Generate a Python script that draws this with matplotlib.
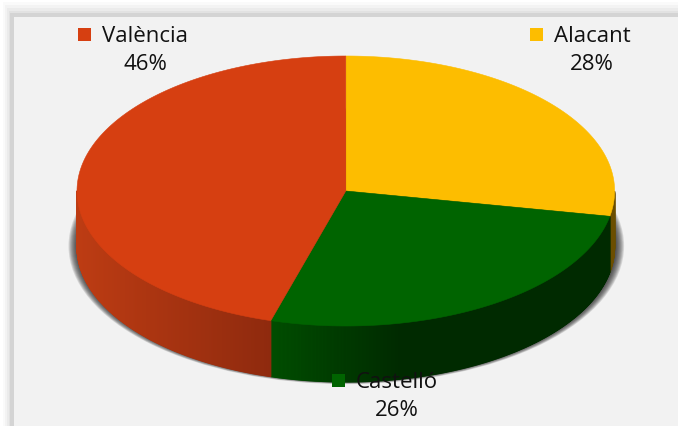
import numpy as np
import matplotlib
matplotlib.use("Agg")
import matplotlib.pyplot as plt
from matplotlib.patches import Ellipse, Polygon, Rectangle

plt.rcParams['font.family'] = ['Open Sans', 'DejaVu Sans']

# Chart data, clockwise from the top
provinces = ['Alacant', 'Castelló', 'València']
shares = [28, 26.5, 45.5]
percent_labels = ['28%', '26%', '46%']
top_colors = ['#fdbd00', '#006400', '#d63f11']
# side colour at the right and left end of the visible wall of each slice
side_right = ['#6b4e00', '#002a00', '#8f2a0e']
side_left = ['#6b4e00', '#004e00', '#bd3c13']
# x span over which the side colour changes
side_span = [(600, 616), (400, 270), (270, 76)]

# where the labels sit, in pixels
label_pos = {'Alacant': (530, 35.5), 'Castelló': (332, 381.5), 'València': (78, 35.5)}
text_x = {'Alacant': 592, 'Castelló': 397, 'València': 145}

W, H = 678, 427
CX, CY = 345.8, 192
RX, RY = 268.8, 135
DEPTH = 56

fig = plt.figure(figsize=(W / 100, H / 100), dpi=100, facecolor='white')
ax = fig.add_axes([0, 0, 1, 1])
ax.set_xlim(0, W)
ax.set_ylim(H, 0)
ax.axis('off')

# panel with soft grey border on top and left
border_x = [3, 5, 7, 9, 10]
border_y = [3, 6, 9, 12, 14]
for bx, by, col in zip(border_x, border_y, ['#fafafa', '#f3f3f3', '#ebebeb', '#e2e2e2', '#d4d4d4']):
    ax.add_patch(Rectangle((bx, by), W, H, fc=col, ec='none', zorder=1))
ax.add_patch(Rectangle((14, 18), W, H, fc='#f2f2f2', ec='none', zorder=1))


def rim(t):
    t = np.radians(t)
    return CX + RX * np.sin(t), CY - RY * np.cos(t)


# blurred shadow behind the pie
for grow in np.linspace(9, -3, 14):
    ax.add_patch(Ellipse((CX + 0.5, CY + DEPTH - 1), 2 * (RX + grow), 2 * (RY + grow * 0.35),
                         fc='#1c1c1c', ec='none', alpha=0.13, zorder=2))

# slice angles
edges = np.concatenate([[0], np.cumsum(shares)]) * 360 / sum(shares)

# side wall, drawn as narrow strips to get the shading
for k in range(len(shares)):
    steps = np.linspace(edges[k], edges[k + 1], int((edges[k + 1] - edges[k]) * 4) + 2)
    c0 = np.array(matplotlib.colors.to_rgb(side_right[k]))
    c1 = np.array(matplotlib.colors.to_rgb(side_left[k]))
    x_a, x_b = side_span[k]
    for t0, t1 in zip(steps[:-1], steps[1:]):
        # only the front half of the wall can be seen
        if np.cos(np.radians((t0 + t1) / 2)) > 0:
            continue
        x0, y0 = rim(t0)
        x1, y1 = rim(t1)
        f = np.clip(((x0 + x1) / 2 - x_a) / (x_b - x_a), 0, 1)
        col = c0 + (c1 - c0) * f
        ax.add_patch(Polygon([(x0, y0), (x1, y1), (x1, y1 + DEPTH), (x0, y0 + DEPTH)],
                             closed=True, fc=col, ec=col, lw=0.8, zorder=3))

# top face
for k in range(len(shares)):
    ts = np.linspace(edges[k], edges[k + 1], 200)
    xs, ys = rim(ts)
    pts = np.column_stack([np.r_[CX, xs], np.r_[CY, ys]])
    ax.add_patch(Polygon(pts, closed=True, fc=top_colors[k], ec=top_colors[k], lw=0.4, zorder=4))

# labels
for name, lab, col in zip(provinces, percent_labels, top_colors):
    lx, ly = label_pos[name]
    ax.add_patch(Rectangle((lx, ly - 6.5), 13, 13, fc=col, ec='none', zorder=5))
    ax.text(text_x[name], ly + 1.5, name, ha='center', va='center', fontsize=16,
            color='#111111', zorder=6)
    ax.text(text_x[name], ly + 29, lab, ha='center', va='center', fontsize=16,
            color='#111111', zorder=6)

fig.savefig('out.png', dpi=100, facecolor='white')
